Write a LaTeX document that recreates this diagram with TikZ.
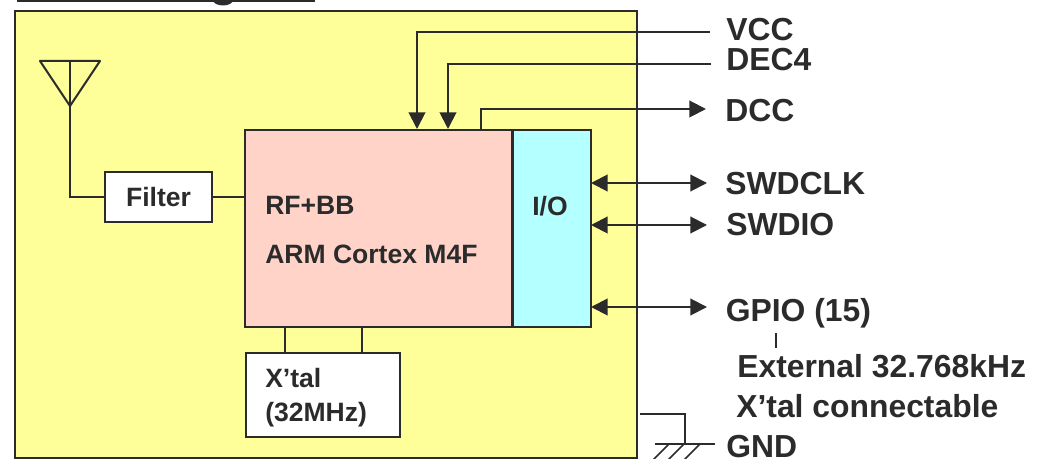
\documentclass[tikz,border=0pt]{standalone}
\usepackage{fontspec}
\setmainfont{Liberation Sans}
\usetikzlibrary{arrows.meta}

\definecolor{chipyellow}{HTML}{FFFF99}
\definecolor{corepink}{HTML}{FFD3C8}
\definecolor{iocyan}{HTML}{B4FFFF}
\definecolor{inkgrey}{HTML}{2B2B2B}

\tikzstyle{block}=[draw=inkgrey, line width=1.5pt, inner sep=0pt, outer sep=0pt, text=inkgrey, font=\fontsize{19.9}{25.5}\selectfont\bfseries]
\tikzstyle{pinlabel}=[anchor=west, inner sep=0pt, text height=17.1pt, text depth=0pt, text=inkgrey, font=\fontsize{23.9}{28}\selectfont\bfseries]
\tikzstyle{corelabel}=[anchor=west, inner sep=0pt, align=left, text=inkgrey, font=\fontsize{19.9}{25.5}\selectfont\bfseries]
\tikzstyle{wire} = [draw=inkgrey, line width=1.5pt]
\tikzstyle{thinwire} = [draw=inkgrey, line width=1.1pt]
\tikzstyle{pinwire} = [wire, -{Triangle[length=12.5pt,width=12.5pt]}]
\tikzstyle{bothwire} = [wire, {Triangle[length=12.5pt,width=12.5pt]}-{Triangle[length=12.5pt,width=12.5pt]}]

\begin{document}
\begin{tikzpicture}[x=0.75pt, y=-0.75pt]
	\clip (0,0) rectangle (1041,459);
	% cut off heading
	\draw[line width=2.4pt, draw=inkgrey] (17,0.8) -- (315,0.8);
	\fill[inkgrey] (213,0) arc[start angle=180, end angle=360, x radius=10, y radius=-5.5] -- cycle;

	\node[block, fill=chipyellow, minimum width=466.5pt, minimum height=335pt] (chip) at (326,234.5) {};
	\node[block, fill=corepink, minimum width=200pt, minimum height=148pt] (core) at (378.5,228.5) {};
	\node[block, fill=iocyan, minimum width=58.5pt, minimum height=148pt] (io) at (552,228.5) {};
	\node[block, fill=white, minimum width=80pt, minimum height=38pt] (filter) at (158.5,197) {Filter};
	\node[block, fill=white, minimum width=115.5pt, minimum height=63pt] (xtal) at (323,395) {};
	\node[corelabel] (iolabel) at (532,206) {I/O};
	\node[corelabel] (xtallabel) at (265,398) {X’tal\\(32MHz)};
	\node[corelabel] (rfbb) at (265,205) {RF+BB};
	\node[corelabel] (arm) at (265,254) {ARM Cortex M4F};

	\foreach \pos/\name/\txt in {{(726,29.5)/vcc/VCC}, {(726,59.5)/dec/DEC4}, {(725,110.5)/dcc/DCC}, {(725,183.5)/swdclk/SWDCLK}, {(726,224.5)/swdio/SWDIO}, {(725.5,310)/gpio/GPIO (15)}, {(737,366.5)/ext/External 32.768kHz}, {(736,406.5)/conn/X’tal connectable}, {(726,446)/gnd/GND}}
		\node[pinlabel] (\name) at \pos {\txt};

	\foreach \pos/\name in {{(710,32)/vccend}, {(711,64)/decend}, {(706,109)/dccend}, {(707,183)/swdclkend}, {(707,225)/swdioend}, {(707,307)/gpioend}, {(417,129)/vccin}, {(448,129)/decin}, {(481,130)/dccout}, {(70,61)/anttop}, {(70,106)/antbase}, {(285,327)/xtala}, {(362,327)/xtalb}}
		\path \pos coordinate (\name);

	% supply lines
	\path[pinwire] (vccend) -| (vccin);
	\path[pinwire] (decend) -| (decin);
	\path[pinwire] (dccout) |- (dccend);
	\foreach \name in {swdclk, swdio, gpio}
		\path[bothwire] (io.east |- \name end) -- (\name end);

	% antenna
	\path[wire, line join=round] (40,61) -- (100,61) -- (antbase) -- cycle;
	\path[wire] (anttop) -- (antbase) |- (filter.west);
	\path[wire] (filter.east) -- (filter.east -| core.west);
	\foreach \name in {xtala, xtalb}
		\path[wire] (\name) -- (\name |- xtal.north);

	% ground
	\coordinate (gndtop) at (640,414);
	\coordinate (gndbar) at (685,444);
	\path[thinwire] (gndtop) -| (gndbar);
	\path[thinwire] (655,444) -- (715,444);
	\foreach \x in {669,684,700}
		\path[thinwire] (\x,444) -- ++(-16,16);
	\path[thinwire] (776,333) -- (776,348);
\end{tikzpicture}
\end{document}
